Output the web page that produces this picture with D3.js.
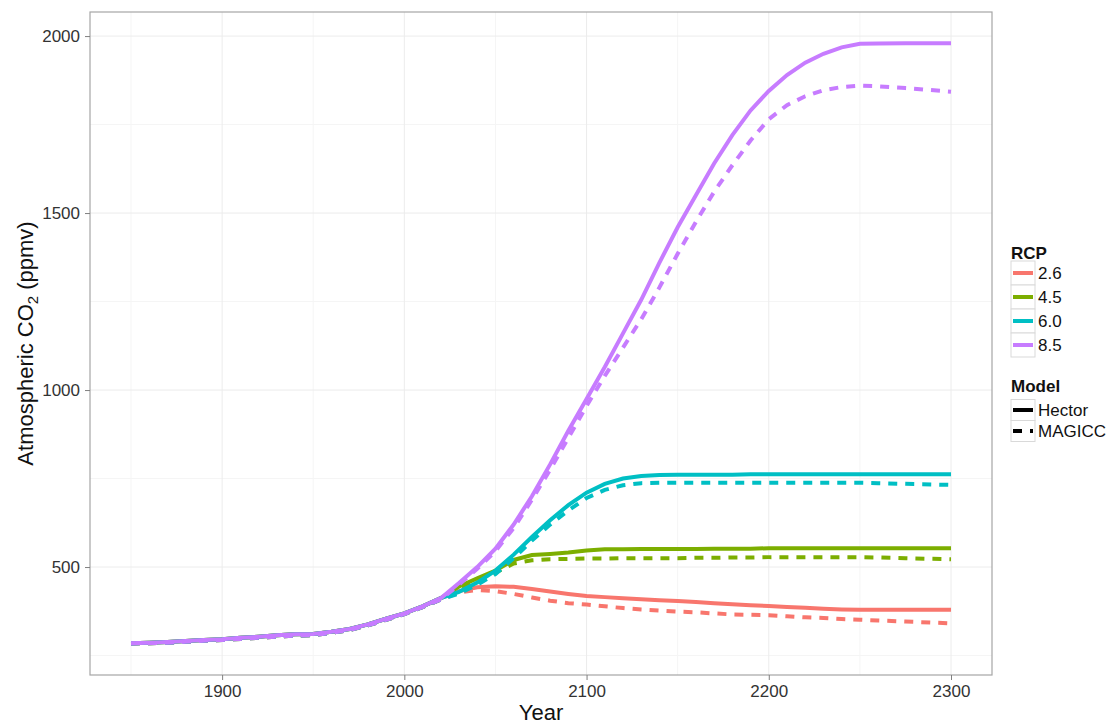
<!DOCTYPE html>
<html>
<head>
<meta charset="utf-8">
<script src="https://cdn.jsdelivr.net/npm/d3@7"></script>
<style>
  body { margin: 0; background: #fff; }
  text { font-family: "Liberation Sans", Arial, sans-serif; }
</style>
</head>
<body>
<svg id="chart" width="1112" height="725"></svg>
<script>
'use strict';

// historical (shared by every scenario)
var histYears = [1850, 1860, 1870, 1880, 1890, 1900, 1910, 1920, 1930, 1940, 1950, 1960, 1970, 1980, 1990, 2000, 2010, 2020];
var histHector = [285, 286, 288, 291, 294, 296, 300, 303, 307, 310, 311, 317, 325, 338, 354, 369, 389, 412];
var histMagicc = [284, 285, 286, 289, 292, 294, 297, 300, 303, 306, 308, 314, 322, 335, 351, 367, 387, 408];

// future years per scenario
var futYears = [2030, 2040, 2050, 2060, 2070, 2080, 2090, 2100, 2110, 2120, 2130, 2140, 2150, 2160, 2170, 2180, 2190, 2200, 2210, 2220, 2230, 2240, 2250, 2260, 2275, 2300];

var rcp26Hector = [432, 443, 446, 444, 438, 431, 424, 418, 415, 412, 409, 406, 404, 401, 398, 395, 392, 390, 387, 385, 382, 380, 379, 379, 379, 379];
var rcp26Magicc = [428, 435, 432, 424, 414, 405, 398, 394, 389, 384, 380, 377, 374, 372, 369, 366, 365, 364, 361, 358, 356, 353, 351, 349, 346, 341];
var rcp45Hector = [445, 468, 490, 520, 534, 537, 541, 547, 550, 550, 551, 551, 551, 551, 552, 552, 552, 553, 553, 553, 553, 553, 553, 553, 553, 553];
var rcp45Magicc = [440, 462, 484, 510, 519, 522, 523, 524, 524, 525, 525, 525, 525, 526, 526, 527, 527, 528, 528, 528, 528, 528, 528, 527, 525, 522];
var rcp60Hector = [430, 456, 490, 535, 585, 632, 675, 710, 735, 750, 757, 760, 761, 761, 761, 761, 762, 762, 762, 762, 762, 762, 762, 762, 762, 762];
var rcp60Magicc = [425, 450, 480, 525, 575, 620, 660, 695, 718, 731, 737, 738, 738, 738, 738, 738, 738, 738, 738, 738, 738, 738, 738, 737, 735, 732];
var rcp85Hector = [455, 500, 552, 620, 700, 790, 885, 975, 1065, 1160, 1255, 1360, 1460, 1550, 1640, 1720, 1790, 1845, 1890, 1925, 1950, 1968, 1978, 1979, 1980, 1980];
var rcp85Magicc = [450, 495, 545, 610, 690, 775, 865, 955, 1040, 1120, 1200, 1290, 1385, 1475, 1560, 1635, 1705, 1765, 1805, 1830, 1847, 1856, 1860, 1858, 1853, 1843];

var rcpNames = ["2.6", "4.5", "6.0", "8.5"];
var rcpColors = ["#F8766D", "#7CAE00", "#00BFC4", "#C77CFF"];
var modelNames = ["Hector", "MAGICC"];
var xTicks = [1900, 2000, 2100, 2200, 2300];
var yTicks = [500, 1000, 1500, 2000];

var futures = {
  "2.6": [rcp26Hector, rcp26Magicc],
  "4.5": [rcp45Hector, rcp45Magicc],
  "6.0": [rcp60Hector, rcp60Magicc],
  "8.5": [rcp85Hector, rcp85Magicc]
};

var svg = d3.select("#chart"),
    margin = {top: 12, right: 120, bottom: 50, left: 90},
    width = 992 - margin.left,
    height = 675 - margin.top;

var x = d3.scaleLinear().domain([1827.5, 2322.5]).range([0, width]),
    y = d3.scaleLinear().domain([195, 2068]).range([height, 0]),
    z = d3.scaleOrdinal().domain(rcpNames).range(rcpColors);

var g = svg.append("g")
    .attr("transform", "translate(" + margin.left + "," + margin.top + ")");

// minor grid
var xMinor = [1850, 1950, 2050, 2150, 2250],
    yMinor = [250, 750, 1250, 1750];
g.selectAll(".xminor").data(xMinor).enter().append("line")
    .attr("x1", x).attr("x2", x).attr("y1", 0).attr("y2", height)
    .attr("stroke", "#f5f5f5").attr("stroke-width", 1);
g.selectAll(".yminor").data(yMinor).enter().append("line")
    .attr("y1", y).attr("y2", y).attr("x1", 0).attr("x2", width)
    .attr("stroke", "#f5f5f5").attr("stroke-width", 1);
// major grid
g.selectAll(".xmajor").data(xTicks).enter().append("line")
    .attr("x1", x).attr("x2", x).attr("y1", 0).attr("y2", height)
    .attr("stroke", "#ececec").attr("stroke-width", 1);
g.selectAll(".ymajor").data(yTicks).enter().append("line")
    .attr("y1", y).attr("y2", y).attr("x1", 0).attr("x2", width)
    .attr("stroke", "#ececec").attr("stroke-width", 1);

var line = d3.line()
    .x(function(d) { return x(d[0]); })
    .y(function(d) { return y(d[1]); });

// build series: historical + scenario
var series = [];
rcpNames.forEach(function(r) {
  modelNames.forEach(function(m, mi) {
    var hist = mi === 0 ? histHector : histMagicc;
    var pts = histYears.map(function(yr, i) { return [yr, hist[i]]; })
      .concat(futYears.map(function(yr, i) { return [yr, futures[r][mi][i]]; }));
    series.push({rcp: r, model: m, values: pts});
  });
});

g.selectAll(".series").data(series).enter().append("path")
    .attr("fill", "none")
    .attr("stroke", function(d) { return z(d.rcp); })
    .attr("stroke-width", 4)
    .attr("stroke-dasharray", function(d) { return d.model === "MAGICC" ? "9,8" : null; })
    .attr("d", function(d) { return line(d.values); });

// panel border
g.append("rect")
    .attr("width", width).attr("height", height)
    .attr("fill", "none").attr("stroke", "#a6a6a6").attr("stroke-width", 1.2);

// axes
var xAxis = g.append("g")
    .attr("transform", "translate(0," + height + ")")
    .call(d3.axisBottom(x).tickValues(xTicks).tickSize(5).tickPadding(5).tickFormat(d3.format("d")));
var yAxis = g.append("g")
    .call(d3.axisLeft(y).tickValues(yTicks).tickSize(5).tickPadding(5).tickFormat(d3.format("d")));
[xAxis, yAxis].forEach(function(a) {
  a.select(".domain").remove();
  a.selectAll("line").attr("stroke", "#7f7f7f");
  a.selectAll("text").attr("font-size", 17).attr("fill", "#333")
      .style("font-family", "'Liberation Sans', Arial, sans-serif");
});

svg.append("text")
    .attr("x", margin.left + width / 2).attr("y", 720)
    .attr("text-anchor", "middle").attr("font-size", 22).attr("fill", "#111")
    .text("Year");

var yt = svg.append("text")
    .attr("transform", "translate(33," + (margin.top + height / 2) + ") rotate(-90)")
    .attr("text-anchor", "middle").attr("font-size", 22).attr("fill", "#111");
yt.append("tspan").text("Atmospheric CO");
yt.append("tspan").attr("font-size", 15).attr("dy", 5).text("2");
yt.append("tspan").attr("dy", -5).text(" (ppmv)");

// legends
var leg = svg.append("g").attr("transform", "translate(1011,0)");
leg.append("text").attr("x", 0).attr("y", 259)
    .attr("font-size", 17).attr("font-weight", "bold").attr("fill", "#111").text("RCP");
rcpNames.forEach(function(r, i) {
  var cy = 273 + i * 24;
  leg.append("rect").attr("x", 0).attr("y", cy - 12).attr("width", 24).attr("height", 24)
      .attr("fill", "#fff").attr("stroke", "#d9d9d9").attr("stroke-width", 1);
  leg.append("line").attr("x1", 2).attr("x2", 22).attr("y1", cy).attr("y2", cy)
      .attr("stroke", z(r)).attr("stroke-width", 4);
  leg.append("text").attr("x", 27).attr("y", cy + 6).attr("font-size", 17).attr("fill", "#111").text(r);
});
leg.append("text").attr("x", 0).attr("y", 392)
    .attr("font-size", 17).attr("font-weight", "bold").attr("fill", "#111").text("Model");
modelNames.forEach(function(m, i) {
  var cy = 410 + i * 21;
  leg.append("rect").attr("x", 0).attr("y", cy - 10.5).attr("width", 24).attr("height", 21)
      .attr("fill", "#fff").attr("stroke", "#d9d9d9").attr("stroke-width", 1);
  leg.append("line").attr("x1", 2).attr("x2", 22).attr("y1", cy).attr("y2", cy)
      .attr("stroke", "#000").attr("stroke-width", 4)
      .attr("stroke-dasharray", m === "MAGICC" ? "9,8" : null);
  leg.append("text").attr("x", 27).attr("y", cy + 6).attr("font-size", 17).attr("fill", "#111").text(m);
});
</script>
</body>
</html>
